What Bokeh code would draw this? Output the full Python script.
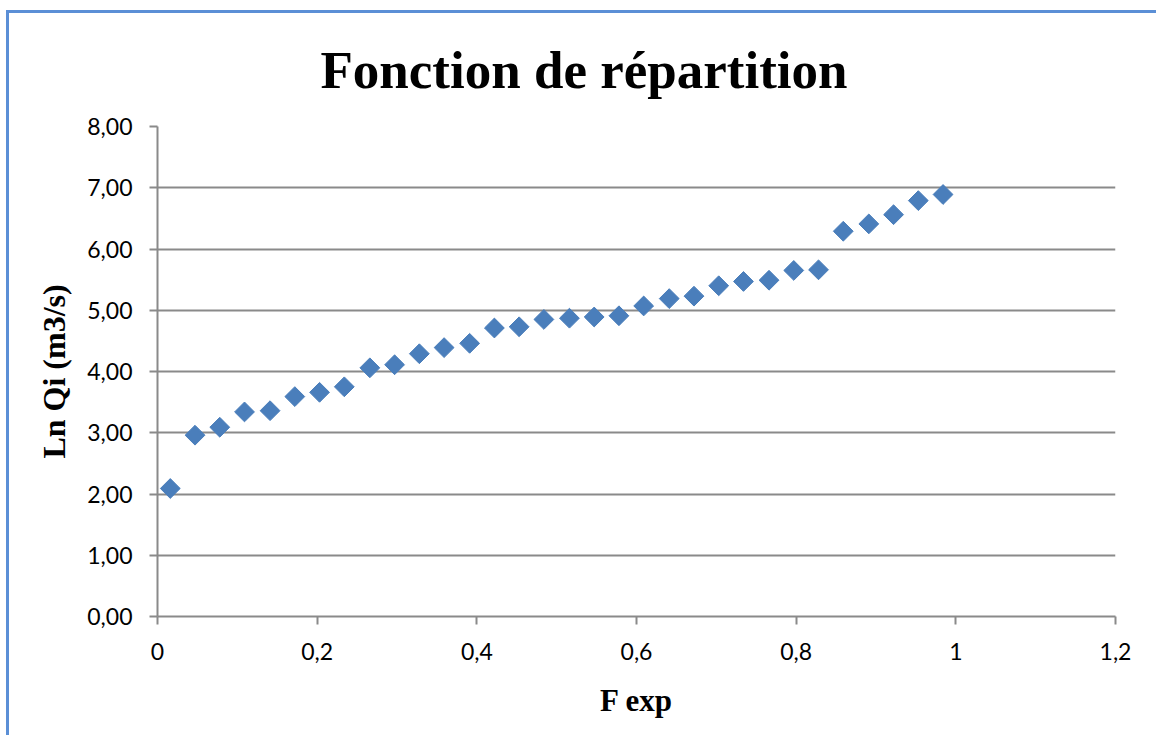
from bokeh.plotting import figure
from bokeh.models import Range1d, FixedTicker, Title, InlineStyleSheet
from bokeh.embed import file_html
from bokeh.resources import INLINE

# Data
f_exp = [0.016, 0.047, 0.078, 0.109, 0.141, 0.172, 0.203, 0.234,
         0.266, 0.297, 0.328, 0.359, 0.391, 0.422, 0.453, 0.484,
         0.516, 0.547, 0.578, 0.609, 0.641, 0.672, 0.703, 0.734,
         0.766, 0.797, 0.828, 0.859, 0.891, 0.922, 0.953, 0.984]
ln_qi = [2.09, 2.96, 3.09, 3.34, 3.36, 3.59, 3.66, 3.75,
         4.06, 4.11, 4.29, 4.39, 4.46, 4.71, 4.73, 4.85,
         4.87, 4.89, 4.91, 5.07, 5.19, 5.23, 5.40, 5.47,
         5.49, 5.65, 5.66, 6.29, 6.41, 6.56, 6.79, 6.89]

x_ticks = [0, 0.2, 0.4, 0.6, 0.8, 1.0, 1.2]
x_tick_labels = ["0", "0,2", "0,4", "0,6", "0,8", "1", "1,2"]
y_ticks = [0, 1, 2, 3, 4, 5, 6, 7, 8]
y_tick_labels = ["0,00", "1,00", "2,00", "3,00", "4,00", "5,00", "6,00", "7,00", "8,00"]

GRAY = "#8a8a8a"
BLUE = "#4a7ebb"

p = figure(width=1156, height=735, output_backend="svg", toolbar_location=None,
           x_range=Range1d(0, 1.2), y_range=Range1d(0, 8),
           min_border_left=157, min_border_right=41,
           min_border_top=126, min_border_bottom=119)
p.background_fill_color = "white"
p.border_fill_color = "white"
p.outline_line_color = None

title = Title(text="Fonction de répartition", align="left", offset=163,
              text_font="Liberation Serif", text_font_style="bold",
              text_font_size="53px", text_color="black", standoff=55)
p.add_layout(title, "above")

p.scatter(f_exp, ln_qi, marker="square", size=14, angle=0.785398,
          fill_color=BLUE, line_color=BLUE)

# x axis
xa = p.xaxis[0]
xa.ticker = FixedTicker(ticks=x_ticks)
xa.major_label_overrides = {t: l for t, l in zip(x_ticks, x_tick_labels)}
xa.axis_label = "F exp"
# y axis
ya = p.yaxis[0]
ya.ticker = FixedTicker(ticks=y_ticks)
ya.major_label_overrides = {t: l for t, l in zip(y_ticks, y_tick_labels)}
ya.axis_label = "Ln Qi (m3/s)"

for ax in (xa, ya):
    ax.axis_line_color = GRAY
    ax.axis_line_width = 2
    ax.major_tick_line_color = GRAY
    ax.major_tick_line_width = 2
    ax.major_tick_out = 8
    ax.major_tick_in = 0
    ax.minor_tick_line_color = None
    ax.major_label_text_font = "Lato"
    ax.major_label_text_font_size = "23px"
    ax.major_label_text_color = "black"
    ax.axis_label_text_font = "Liberation Serif"
    ax.axis_label_text_font_style = "bold"
    ax.axis_label_text_font_size = "31px"
    ax.axis_label_text_color = "black"

ya.axis_label_text_font_size = "32px"
xa.major_label_standoff = 18
xa.axis_label_standoff = 20
ya.major_label_standoff = 17
ya.axis_label_standoff = 12

p.xgrid.grid_line_color = None
p.ygrid.grid_line_color = GRAY
p.ygrid.grid_line_width = 2

# light blue chart-area border (left and top edges visible in the reference)
p.stylesheets = [InlineStyleSheet(css="""
:host::after {
  content: "";
  position: absolute;
  left: 6px;
  top: 10px;
  width: 1200px;
  height: 800px;
  border-left: 3px solid #5b8fd6;
  border-top: 3px solid #5b8fd6;
  box-sizing: border-box;
  pointer-events: none;
  z-index: 100;
}
:host { position: relative; overflow: hidden; }
""")]

open("out.html", "w").write(file_html(p, INLINE))
